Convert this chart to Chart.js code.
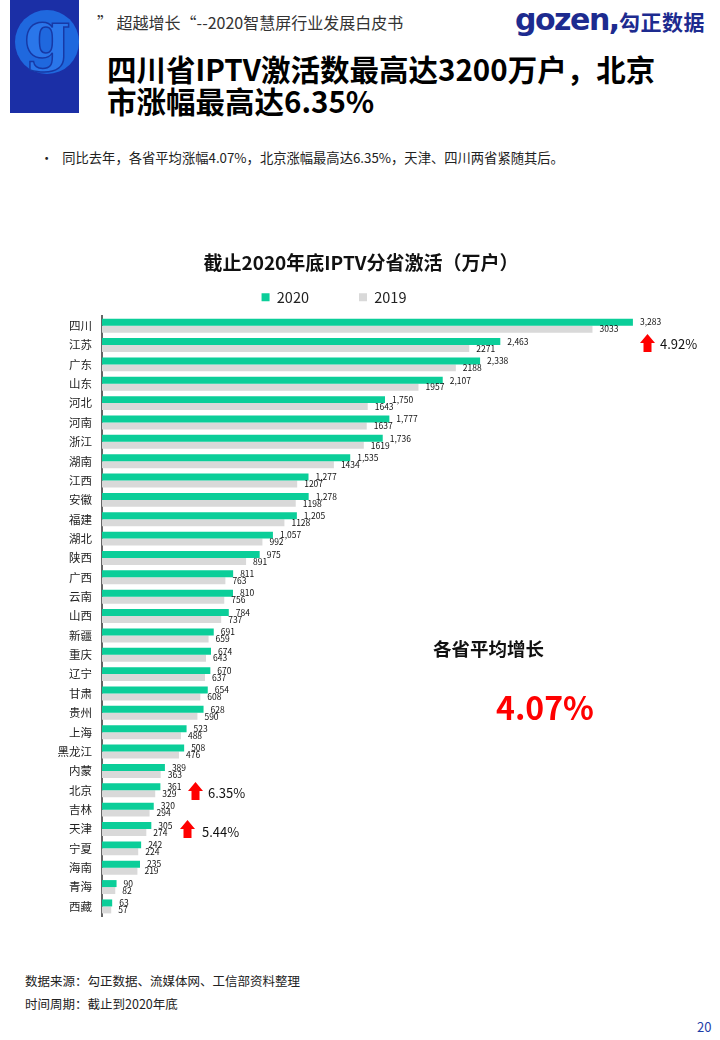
<!DOCTYPE html>
<html lang="zh-CN">
<head>
<meta charset="utf-8">
<title>截止2020年底IPTV分省激活</title>
<script src="https://cdn.jsdelivr.net/npm/chart.js@4.4.1/dist/chart.umd.min.js"></script>
<style>
  html, body { margin: 0; padding: 0; background: #fff; }
  body { width: 720px; height: 1040px; position: relative; overflow: hidden;
         font-family: "Noto Sans CJK SC", "Noto Sans", sans-serif; color: #222; }
  .abs { position: absolute; white-space: nowrap; }
  .blue-block { left: 10px; top: 0; width: 69px; height: 113px; background: #1b2fa6; }
  .g-circle { left: 15px; top: 10px; width: 64px; height: 64px; border-radius: 50%; background: #1f68de; }
  .g-char { left: 15px; top: 4px; width: 64px; text-align: center; font: bold 66px/60px "DejaVu Serif", serif;
            color: #2a76ea; -webkit-text-stroke: 1.5px #1739a6; }
  .header { left: 97px; top: 11px; font-size: 16px; line-height: 22px; color: #333; }
  .logo-en { left: 515px; top: 3px; font: bold 30px/34px "DejaVu Sans", sans-serif; letter-spacing: -1.5px; color: #1d2b8f; }
  .logo-cn { left: 619px; top: 8px; font-size: 21px; line-height: 26px; font-weight: 700; color: #1d2b8f; letter-spacing: 0.5px; }
  .title { left: 107px; top: 52px; font-size: 29.5px; line-height: 32px; font-weight: 700; color: #000; }
  .bullet { left: 40px; top: 149px; font-size: 13.3px; line-height: 18px; color: #222; }
  .chart-title { left: 0; width: 722px; top: 250px; text-align: center; font-size: 19px; line-height: 24px; font-weight: 700; color: #111; }
  .chart-box { left: 0; top: 240px; width: 720px; height: 685px; }
  .chart-box canvas { display: block; }
  .avg-label { left: 433px; top: 636px; font-size: 18.5px; line-height: 24px; font-weight: 700; color: #111; }
  .avg-value { left: 496px; top: 686px; font-size: 32px; line-height: 40px; font-weight: 700; color: #ff0000; }
  .pct { font-size: 13px; line-height: 16px; color: #111; }
  .foot { left: 25px; font-size: 12.5px; line-height: 16px; color: #222; }
  .page-no { left: 697px; top: 1019px; font-size: 13px; line-height: 16px; color: #1f3ea8; }
</style>
</head>
<body>
<div class="abs blue-block"></div>
<div class="abs g-circle"></div>
<div class="abs g-char">g</div>

<div class="abs header">”&nbsp;超越增长“--2020智慧屏行业发展白皮书</div>
<div class="abs logo-en">gozen,</div>
<div class="abs logo-cn">勾正数据</div>

<div class="abs title">四川省IPTV激活数最高达3200万户，北京<br>市涨幅最高达6.35%</div>

<div class="abs bullet">•&nbsp;&nbsp;&nbsp;同比去年，各省平均涨幅4.07%，北京涨幅最高达6.35%，天津、四川两省紧随其后。</div>

<div class="abs chart-box"><canvas id="iptvChart" width="720" height="685"></canvas></div>
<div class="abs chart-title">截止2020年底IPTV分省激活（万户）</div>

<div class="abs avg-label">各省平均增长</div>
<div class="abs avg-value">4.07%</div>

<svg class="abs" style="left:640px;top:334px" width="15" height="18" viewBox="0 0 15 18"><polygon points="7.5,0 15,9 11.5,9 11.5,18 3.5,18 3.5,9 0,9" fill="#ff0000"/></svg>
<div class="abs pct" style="left:660px;top:336px">4.92%</div>
<svg class="abs" style="left:188px;top:782px" width="15" height="18" viewBox="0 0 15 18"><polygon points="7.5,0 15,9 11.5,9 11.5,18 3.5,18 3.5,9 0,9" fill="#ff0000"/></svg>
<div class="abs pct" style="left:208px;top:785px">6.35%</div>
<svg class="abs" style="left:180px;top:820px" width="15" height="18" viewBox="0 0 15 18"><polygon points="7.5,0 15,9 11.5,9 11.5,18 3.5,18 3.5,9 0,9" fill="#ff0000"/></svg>
<div class="abs pct" style="left:202px;top:824px">5.44%</div>

<div class="abs foot" style="top:973px">数据来源：勾正数据、流媒体网、工信部资料整理</div>
<div class="abs foot" style="top:996px">时间周期：截止到2020年底</div>
<div class="abs page-no">20</div>

<script>
const provinces = ['四川', '江苏', '广东', '山东', '河北', '河南', '浙江', '湖南', '江西', '安徽',
    '福建', '湖北', '陕西', '广西', '云南', '山西', '新疆', '重庆', '辽宁', '甘肃',
    '贵州', '上海', '黑龙江', '内蒙', '北京', '吉林', '天津', '宁夏', '海南', '青海', '西藏'];
const active2020 = [3283, 2463, 2338, 2107, 1750, 1777, 1736, 1535, 1277, 1278,
    1205, 1057, 975, 811, 810, 784, 691, 674, 670, 654,
    628, 523, 508, 389, 361, 320, 305, 242, 235, 90, 63];
const active2019 = [3033, 2271, 2188, 1957, 1643, 1637, 1619, 1434, 1207, 1198,
    1128, 992, 891, 763, 756, 737, 659, 643, 637, 608,
    590, 488, 476, 363, 329, 294, 274, 224, 219, 82, 57];
const seriesNames = ['2020', '2019'];
const xMax = 3500;

const gozenColors = {
    green: '#0BCE99',
    grey: '#D9D9D9',
    text: '#222222',
    axis: '#666666'
};
const fontFamily = '"Noto Sans CJK SC", "Noto Sans", sans-serif';

// 数据标签：2020 带千分位，2019 不带
const barValueLabels = {
    id: 'barValueLabels',
    afterDatasetsDraw(chart) {
        const ctx = chart.ctx;
        ctx.save();
        ctx.font = '8.5px ' + fontFamily;
        ctx.fillStyle = '#111111';
        ctx.textAlign = 'left';
        ctx.textBaseline = 'middle';
        chart.data.datasets.forEach((ds, i) => {
            chart.getDatasetMeta(i).data.forEach((bar, j) => {
                const v = ds.data[j];
                const txt = i === 0 ? v.toLocaleString('en-US') : String(v);
                ctx.fillText(txt, bar.x + 7, bar.y);
            });
        });
        ctx.restore();
    }
};

const iptvCtx = document.getElementById('iptvChart').getContext('2d');
const iptvChart = new Chart(iptvCtx, {
    type: 'bar',
    data: {
        labels: provinces,
        datasets: [{
            label: seriesNames[0],
            data: active2020,
            backgroundColor: gozenColors.green,
            borderWidth: 0,
            categoryPercentage: 0.72,
            barPercentage: 1
        }, {
            label: seriesNames[1],
            data: active2019,
            backgroundColor: gozenColors.grey,
            borderWidth: 0,
            categoryPercentage: 0.72,
            barPercentage: 1
        }]
    },
    options: {
        indexAxis: 'y',
        responsive: false,
        animation: false,
        layout: { padding: { left: 0, right: 52, top: 0, bottom: 0 } },
        plugins: {
            legend: {
                position: 'top',
                align: 'center',
                labels: {
                    boxWidth: 8,
                    boxHeight: 8,
                    padding: 50,
                    color: gozenColors.text,
                    font: { size: 14.5, family: fontFamily }
                }
            },
            tooltip: { enabled: false }
        },
        scales: {
            x: {
                position: 'top',
                min: 0,
                max: xMax,
                grid: { display: false },
                border: { display: false },
                ticks: { display: false },
                afterFit(scale) { scale.height = 1.5; }
            },
            y: {
                grid: { display: false },
                border: { display: true, color: gozenColors.axis, width: 2 },
                ticks: {
                    padding: 2,
                    color: gozenColors.text,
                    font: { size: 11.5, family: fontFamily }
                },
                afterFit(scale) { scale.width = 102; }
            }
        }
    },
    plugins: [barValueLabels]
});
</script>
</body>
</html>
